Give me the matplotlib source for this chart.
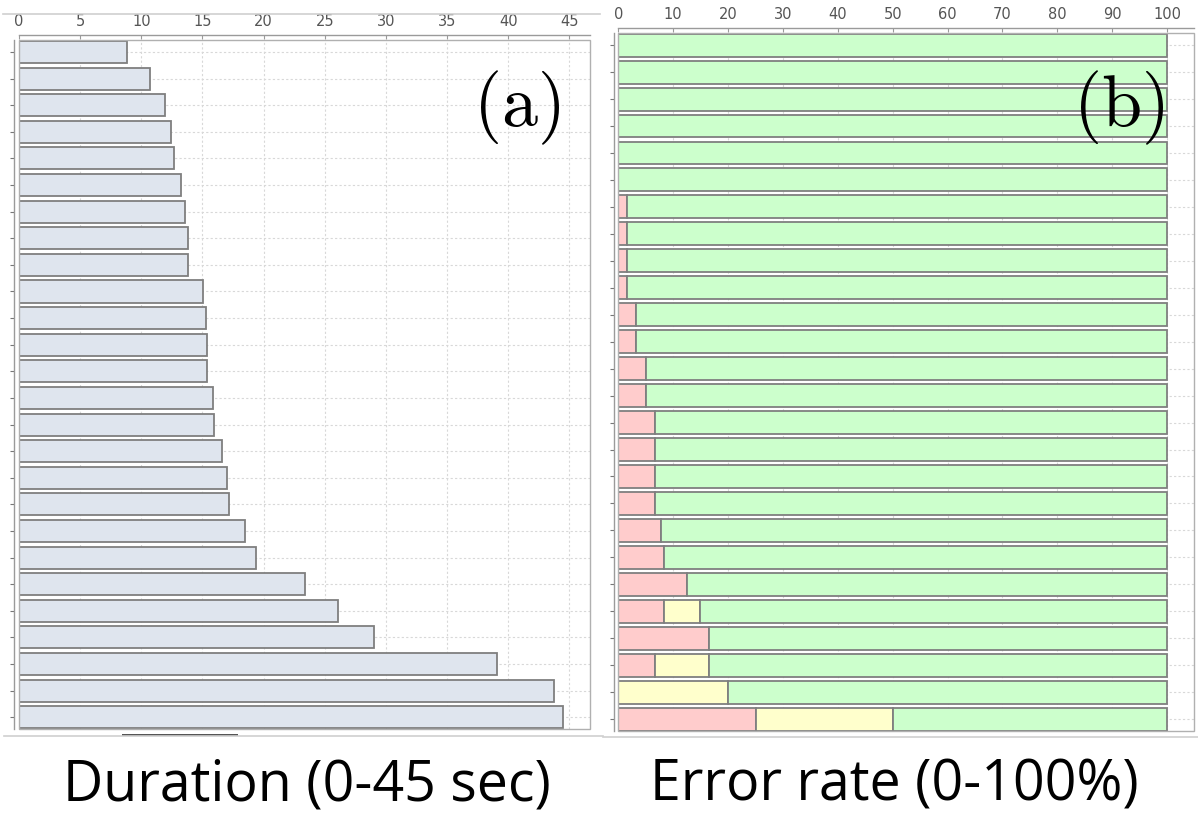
import matplotlib
matplotlib.use("Agg")
import matplotlib.pyplot as plt
from matplotlib.patches import Rectangle
from matplotlib.lines import Line2D

# ---------------- data ----------------
duration = [8.8, 10.7, 11.95, 12.45, 12.7, 13.25, 13.6, 13.8, 13.8, 15.05,
            15.25, 15.35, 15.35, 15.85, 15.95, 16.6, 17.0, 17.2, 18.5, 19.4,
            23.35, 26.1, 29.0, 39.05, 43.7, 44.5]
err_red = [0, 0, 0, 0, 0, 0, 1.5, 1.5, 1.5, 1.5, 3.3, 3.3, 5.1, 5.1, 6.6,
           6.6, 6.6, 6.6, 7.7, 8.3, 12.5, 8.3, 16.5, 6.6, 0, 25]
err_yellow = [0, 0, 0, 0, 0, 0, 0, 0, 0, 0, 0, 0, 0, 0, 0, 0, 0, 0, 0, 0,
              0, 6.6, 0, 10.0, 20, 25]
err_green = [100, 100, 100, 100, 100, 100, 98.5, 98.5, 98.5, 98.5, 96.7,
             96.7, 94.9, 94.9, 93.4, 93.4, 93.4, 93.4, 92.3, 91.7, 87.5,
             85.1, 83.5, 83.4, 80, 50]
dur_ticks = [0, 5, 10, 15, 20, 25, 30, 35, 40, 45]
err_ticks = [0, 10, 20, 30, 40, 50, 60, 70, 80, 90, 100]
label_a = "Duration (0-45 sec)"
label_b = "Error rate (0-100%)"

W, H = 1198, 814
fig = plt.figure(figsize=(W / 100, H / 100), dpi=100)
fig.patch.set_facecolor("white")


def box(x0, x1, ytop, ybot):
    return [x0 / W, 1 - ybot / H, (x1 - x0) / W, (ybot - ytop) / H]


def style_axes(ax, ticks, xmax, n):
    ax.set_xlim(0, xmax)
    ax.set_ylim(n - 1 + 0.44, -0.45)
    ax.set_xticks(ticks)
    ax.set_yticks(list(range(n)))
    ax.set_yticklabels([])
    ax.xaxis.tick_top()
    for s in ["right", "bottom"]:
        ax.spines[s].set_visible(False)
    ax.spines["top"].set_position(("outward", 3.8))
    ax.spines["left"].set_position(("outward", 3.4))
    for s in ["top", "left"]:
        ax.spines[s].set_color("#9a9a9a")
        ax.spines[s].set_linewidth(1.0)
    ax.tick_params(axis="x", direction="in", length=3, color="#9a9a9a",
                   labelsize=10.5, labelcolor="#555555", pad=4)
    ax.tick_params(axis="y", direction="out", length=3, color="#777777")
    ax.grid(True, color="#d8d8d8", linestyle=(0, (2, 2)), linewidth=0.8)
    ax.set_axisbelow(True)
    ax.add_patch(Rectangle((0, 0), 1, 1, transform=ax.transAxes,
                           fill=False, edgecolor="#b0b0b0", linewidth=1.0,
                           zorder=5, clip_on=False))


n = len(duration)
ypos = list(range(n))

# ---------------- panel (a) ----------------
ax1 = fig.add_axes(box(19, 590, 40, 729))
style_axes(ax1, dur_ticks, 46.68, n)
ax1.barh(ypos, duration, height=0.83, color="#dfe5ee", edgecolor="#7f7f7f",
         linewidth=1.3, zorder=3)

# ---------------- panel (b) ----------------
ax2 = fig.add_axes(box(618.3, 1194, 33, 731))
style_axes(ax2, err_ticks, 104.9, n)
left_y = err_red
left_g = [r + y for r, y in zip(err_red, err_yellow)]
ax2.barh(ypos, err_red, height=0.85, color="#ffcccc", edgecolor="#7f7f7f",
         linewidth=1.3, zorder=3)
ax2.barh(ypos, err_yellow, left=left_y, height=0.85, color="#ffffcc",
         edgecolor="#7f7f7f", linewidth=1.3, zorder=3)
ax2.barh(ypos, err_green, left=left_g, height=0.85, color="#ccffcc",
         edgecolor="#7f7f7f", linewidth=1.3, zorder=3)

# ---------------- panel letters ----------------
fig.text(517 / W, 1 - 108 / H, r"$(\mathrm{a})$", fontsize=52,
         ha="center", va="center", math_fontfamily="cm", color="black")
fig.text(1119 / W, 1 - 108 / H, r"$(\mathrm{b})$", fontsize=52,
         ha="center", va="center", math_fontfamily="cm", color="black")

# ---------------- screenshot decorations ----------------
def hline(x0, x1, y, color="#cfcfcf", lw=1.2):
    fig.add_artist(Line2D([x0 / W, x1 / W], [1 - y / H, 1 - y / H],
                          color=color, linewidth=lw))

hline(3, 600, 14)
hline(4, 603, 736)
hline(603, 1198, 737)
fig.add_artist(Rectangle((122 / W, 1 - 736 / H), (238 - 122) / W, 2.5 / H,
                         facecolor="#555555", edgecolor="none"))

# ---------------- captions ----------------
fig.text(307 / W, 1 - 786 / H, label_a, fontsize=40, family="Open Sans",
         ha="center", va="center", color="black")
fig.text(894 / W, 1 - 786 / H, label_b, fontsize=40, family="Open Sans",
         ha="center", va="center", color="black")

fig.savefig("out.png", dpi=100, facecolor="white")
